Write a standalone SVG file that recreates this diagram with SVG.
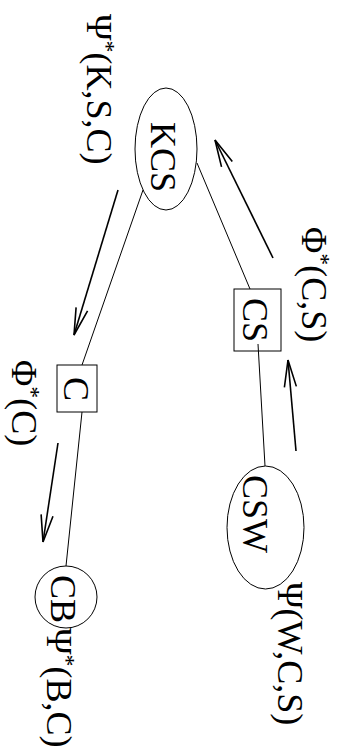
<svg xmlns="http://www.w3.org/2000/svg" width="339" height="751" viewBox="0 0 339 751">
  <style>
    .shape { fill: none; stroke: #000; stroke-width: 1; }
    .edge { fill: none; stroke: #000; stroke-width: 1; }
    .flow { fill: none; stroke: #000; stroke-width: 1.6; marker-end: url(#vee); }
    .lbl { font-family: "Liberation Serif", "Times New Roman", serif; font-size: 36px; fill: #000; }
    .sup { font-size: 24px; }
  </style>
  <defs>
    <marker id="vee" markerUnits="userSpaceOnUse" markerWidth="30" markerHeight="14" refX="28" refY="7" orient="auto" overflow="visible">
      <path d="M1,1 L28,7 L1,13" fill="none" stroke="#000" stroke-width="1.6"/>
    </marker>
  </defs>
  <rect width="339" height="751" fill="#fff"/>

  <!-- tree edges -->
  <g id="edges" class="edge">
    <line x1="143" y1="190" x2="82" y2="365"/>
    <line x1="82" y1="412" x2="66" y2="566"/>
    <line x1="197" y1="163" x2="250" y2="289"/>
    <line x1="258" y1="344" x2="265" y2="466"/>
  </g>

  <!-- message arrows -->
  <g id="messages">
    <line class="flow" x1="118" y1="190" x2="74" y2="335"/>
    <line class="flow" x1="58" y1="443" x2="43" y2="542"/>
    <line class="flow" x1="296" y1="451" x2="288" y2="360"/>
    <line class="flow" x1="273" y1="258" x2="215" y2="140"/>
  </g>

  <!-- nodes -->
  <g id="node-KCS">
    <ellipse class="shape" cx="166" cy="149" rx="31" ry="61"/>
    <text class="lbl" transform="translate(151,122) rotate(90)">KCS</text>
  </g>
  <g id="node-CS">
    <rect class="shape" x="234" y="289" width="47" height="62"/>
    <text class="lbl" transform="translate(243,298) rotate(90)">CS</text>
  </g>
  <g id="node-C">
    <rect class="shape" x="57" y="365" width="40" height="47"/>
    <text class="lbl" transform="translate(64,377) rotate(90)">C</text>
  </g>
  <g id="node-CB">
    <circle class="shape" cx="66" cy="597" r="31"/>
    <text class="lbl" transform="translate(51,575) rotate(90)">CB</text>
  </g>
  <g id="node-CSW">
    <ellipse class="shape" cx="265.5" cy="527.5" rx="38.5" ry="61.5"/>
    <text class="lbl" transform="translate(243,475) rotate(90)">CSW</text>
  </g>

  <!-- potential labels -->
  <g id="labels">
    <text class="lbl" transform="translate(87,14) rotate(90)">Ψ<tspan class="sup" dy="-12">*</tspan><tspan dy="12">(K,S,C)</tspan></text>
    <text class="lbl" transform="translate(302,227) rotate(90)">Φ<tspan class="sup" dy="-12">*</tspan><tspan dy="12">(C,S)</tspan></text>
    <text class="lbl" transform="translate(12,360) rotate(90)">Φ<tspan class="sup" dy="-12">*</tspan><tspan dy="12">(C)</tspan></text>
    <text class="lbl" transform="translate(278,582) rotate(90)">Ψ(W,C,S)</text>
    <text class="lbl" transform="translate(47,628) rotate(90)">Ψ<tspan class="sup" dy="-12">*</tspan><tspan dy="12">(B,C)</tspan></text>
  </g>
</svg>
